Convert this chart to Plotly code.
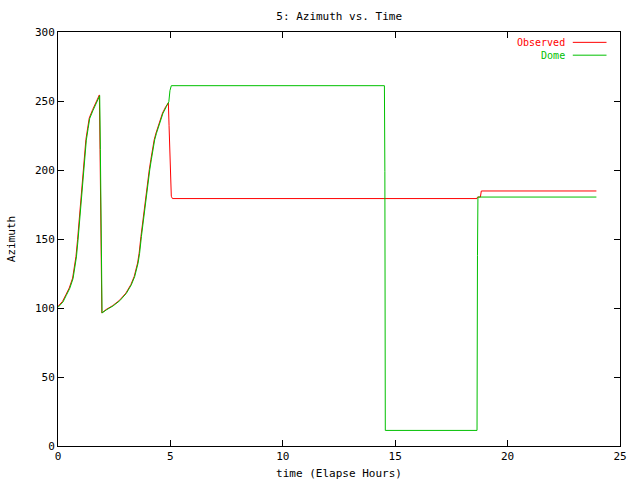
import plotly.graph_objects as go

# Dome (green) azimuth vs elapsed hours
t_dome = [0.00, 0.22, 0.37, 0.52, 0.67, 0.74, 0.82, 0.89, 0.97, 1.04,
          1.11, 1.19, 1.26, 1.34, 1.41, 1.56, 1.71, 1.855, 1.885, 1.93,
          1.96, 2.15, 2.45, 2.75, 3.04, 3.26, 3.41, 3.56, 3.63, 3.71,
          3.78, 3.86, 3.93, 4.01, 4.08, 4.15, 4.23, 4.30, 4.38, 4.52,
          4.67, 4.82, 4.93, 4.98, 5.04, 14.52, 14.54, 14.56, 18.64, 18.66,
          18.68, 23.95]
az_dome = [100.5, 104.3, 109.2, 114.1, 121.3, 127.4, 137.0, 149.1, 166.0, 178.1,
           195.0, 209.5, 221.6, 230.0, 237.3, 243.3, 249.3, 253.8, 214.7, 135.7,
           96.4, 98.6, 101.5, 105.3, 110.6, 116.7, 122.7, 132.4, 139.6, 151.7,
           161.4, 171.0, 180.7, 190.4, 200.0, 207.3, 215.7, 221.8, 226.6, 233.8,
           241.1, 245.9, 249.5, 257.5, 261.1, 261.1, 199.0, 11.3, 11.3, 137.9,
           180.4, 180.4]

# Observed (red)
t_obs = [0.00, 0.20, 0.35, 0.50, 0.65, 0.72, 0.80, 0.87, 0.95, 1.02,
         1.09, 1.17, 1.24, 1.32, 1.39, 1.54, 1.69, 1.84, 1.87, 1.92,
         1.95, 2.13, 2.43, 2.73, 3.02, 3.24, 3.39, 3.54, 3.61, 3.69,
         3.76, 3.84, 3.91, 3.99, 4.06, 4.13, 4.21, 4.28, 4.36, 4.50,
         4.65, 4.80, 4.91, 4.94, 5.00, 5.04, 5.09, 18.64, 18.66, 18.79,
         18.83, 23.95]
az_obs = [101.2, 104.8, 109.6, 114.5, 121.7, 127.8, 137.4, 149.5, 166.4, 178.5,
          195.4, 209.9, 222.0, 230.4, 237.7, 243.7, 249.7, 254.4, 214.7, 135.7,
          96.4, 98.8, 101.7, 105.5, 110.8, 116.9, 122.9, 132.6, 139.8, 151.9,
          161.6, 171.2, 180.9, 190.6, 200.2, 207.5, 215.9, 222.0, 226.8, 234.0,
          241.3, 246.1, 248.6, 232.1, 198.0, 181.0, 179.3, 179.3, 180.4, 180.4,
          184.8, 184.8]

x_ticks = [0, 5, 10, 15, 20, 25]
y_ticks = [0, 50, 100, 150, 200, 250, 300]
series_names = ["Observed", "Dome"]
series_colors = ["#ff0000", "#00c000"]

FONT = "DejaVu Sans Mono"

fig = go.Figure()
fig.add_trace(go.Scatter(x=t_obs, y=az_obs, mode="lines", name=series_names[0],
                         line=dict(color=series_colors[0], width=1), showlegend=False))
fig.add_trace(go.Scatter(x=t_dome, y=az_dome, mode="lines", name=series_names[1],
                         line=dict(color=series_colors[1], width=1), showlegend=False))

# gnuplot-style key: text then line sample (one multi-line text block)
key_text = "<br>".join(f"<span style='color:{c}'>{n}</span>"
                       for n, c in zip(series_names, series_colors))
fig.add_annotation(xref="paper", yref="paper", x=0.905, y=0.992, text=key_text,
                   showarrow=False, xanchor="right", yanchor="top", align="right",
                   font=dict(family=FONT, size=10, color="black"))
key_y = [0.975, 0.944]
for col, ky in zip(series_colors, key_y):
    fig.add_shape(type="line", xref="paper", yref="paper", x0=0.916, x1=0.976,
                  y0=ky, y1=ky, line=dict(color=col, width=1))

axis_common = dict(showline=True, linecolor="black", linewidth=1, mirror="ticks",
                   ticks="inside", ticklen=6, tickcolor="black", tickwidth=1,
                   showgrid=False, zeroline=False, automargin=False,
                   tickfont=dict(family=FONT, size=11, color="black"))

fig.update_layout(
    width=640, height=480,
    margin=dict(l=58, r=20, t=32, b=34, autoexpand=False),
    paper_bgcolor="white", plot_bgcolor="white",
    title=dict(text="5: Azimuth vs. Time", x=0.53, xref="container", xanchor="center",
               y=1 - 16 / 480, yanchor="middle",
               font=dict(family=FONT, size=11, color="black")),
    xaxis=dict(range=[0, 25], tickvals=x_ticks, ticktext=[str(v) for v in x_ticks],
               title=dict(text="time (Elapse Hours)", standoff=7,
                          font=dict(family=FONT, size=11, color="black")),
               **axis_common),
    yaxis=dict(range=[0, 300], tickvals=y_ticks, ticktext=[str(v) for v in y_ticks],
               title=dict(text="Azimuth", standoff=17,
                          font=dict(family=FONT, size=11, color="black")),
               **axis_common),
    showlegend=False,
)

fig.write_html("out.html", config={"displayModeBar": False},
               post_script="document.body.style.margin='0px';document.body.style.overflow='hidden';")
